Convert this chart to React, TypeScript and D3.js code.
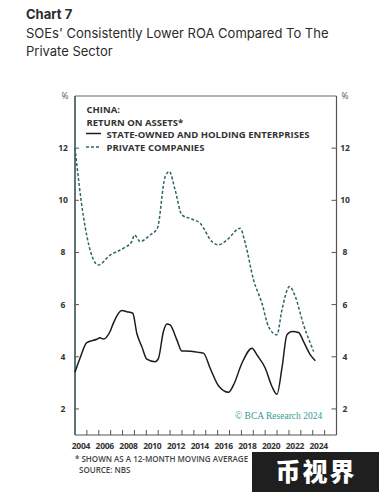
import React from 'react';
import * as d3 from 'd3';

const title = 'Chart 7';
const subtitleLines = ['SOEs\' Consistently Lower ROA Compared To The', 'Private Sector'];
const legendTitle = ['CHINA:', 'RETURN ON ASSETS*'];
const seriesNames = ['STATE-OWNED AND HOLDING ENTERPRISES', 'PRIVATE COMPANIES'];

const privateYears = [2004.0, 2004.7, 2005.96, 2006.95, 2008.07, 2008.78, 2009.0, 2009.48, 2010.32, 2010.93, 2011.58, 2011.94, 2012.42, 2012.99, 2013.69, 2014.53, 2015.52, 2016.07, 2016.78, 2017.9, 2018.32, 2019.02, 2019.73, 2020.28, 2020.99, 2021.41, 2022.05, 2022.53, 2023.23, 2023.8, 2024.08];
const privateValues = [12.0, 9.4, 7.52, 7.9, 8.16, 8.42, 8.67, 8.42, 8.67, 8.93, 10.9, 11.1, 10.4, 9.44, 9.3, 9.12, 8.42, 8.29, 8.48, 8.93, 8.36, 6.95, 6.05, 5.16, 4.84, 5.8, 6.69, 6.31, 5.22, 4.52, 4.2];

const soeYears = [2004.0, 2004.42, 2004.99, 2005.83, 2006.1, 2006.38, 2006.95, 2007.23, 2007.93, 2008.36, 2008.86, 2009.2, 2009.62, 2010.04, 2010.74, 2011.02, 2011.44, 2011.73, 2012.0, 2012.57, 2012.99, 2013.27, 2014.53, 2014.81, 2015.37, 2016.07, 2016.92, 2017.34, 2018.04, 2018.89, 2019.31, 2020.01, 2020.57, 2020.99, 2021.41, 2021.83, 2022.26, 2022.81, 2023.23, 2023.8, 2024.22];
const soeValues = [3.41, 3.94, 4.54, 4.67, 4.73, 4.68, 4.97, 5.29, 5.77, 5.73, 5.67, 4.9, 4.39, 3.91, 3.81, 3.94, 4.97, 5.26, 5.22, 4.65, 4.22, 4.22, 4.16, 4.14, 3.56, 2.89, 2.64, 2.92, 3.75, 4.33, 4.07, 3.56, 2.86, 2.56, 3.56, 4.84, 4.97, 4.93, 4.58, 4.07, 3.85];

const yTicks = [2, 4, 6, 8, 10, 12];
const xLabelYears = [2004, 2006, 2008, 2010, 2012, 2014, 2016, 2018, 2020, 2022, 2024];
const xTickYears = [2005, 2006, 2007, 2008, 2009, 2010, 2011, 2012, 2013, 2014, 2015, 2016, 2017, 2018, 2019, 2020, 2021, 2022, 2023, 2024, 2025];
const footnotes = ['* SHOWN AS A 12-MONTH MOVING AVERAGE', 'SOURCE: NBS'];

const W = 379;
const H = 492;
const L = 75, R = 336.5, T = 96, B = 435;

export default function App() {
  const x = d3.scaleLinear().domain([2004, 2026]).range([L, R]);
  const y = d3.scaleLinear().domain([1, 14]).range([B, T]);

  const priv = privateYears.map((yr, i) => [yr, privateValues[i]] as [number, number]);
  const soe = soeYears.map((yr, i) => [yr, soeValues[i]] as [number, number]);
  const line = d3.line<[number, number]>().x(d => x(d[0])).y(d => y(d[1])).curve(d3.curveMonotoneX);

  const axisColor = '#5f7475';
  const textColor = '#333';
  const geo = '"Open Sans", "DejaVu Sans", sans-serif';

  return (
    <svg width={W} height={H} style={{ position: 'absolute', left: 0, top: 0, background: '#fff' }}>
      <rect x={0} y={0} width={W} height={H} fill="#fff" />
      <text x={26} y={19} fontFamily='Inter, "Liberation Sans", sans-serif' fontSize={13} fontWeight={700} fill="#2b2b2b">{title}</text>
      {subtitleLines.map((s, i) => (
        <text key={i} x={26} y={38 + i * 18} fontFamily='Inter, "Liberation Sans", sans-serif' fontSize={13} fill="#2b2b2b">{s}</text>
      ))}

      {/* frame */}
      <line x1={L} x2={R} y1={T} y2={T} stroke="#666" strokeWidth={1} />
      <line x1={R} x2={R} y1={T} y2={B} stroke="#555" strokeWidth={1.2} />
      <line x1={L} x2={R} y1={B} y2={B} stroke="#555" strokeWidth={1.2} />
      <line x1={L} x2={L} y1={T} y2={B} stroke={axisColor} strokeWidth={2} />

      {/* y ticks */}
      {yTicks.map(t => (
        <g key={t}>
          <line x1={L} x2={L + 4} y1={y(t)} y2={y(t)} stroke="#555" strokeWidth={1} />
          <line x1={R - 5} x2={R} y1={y(t)} y2={y(t)} stroke="#555" strokeWidth={1} />
          <text x={63} y={y(t) + 3} textAnchor="middle" fontFamily={geo} fontWeight={700} fontSize={8.5} fill={textColor}>{t}</text>
          <text x={345} y={y(t) + 3} textAnchor="middle" fontFamily={geo} fontWeight={700} fontSize={8.5} fill={textColor}>{t}</text>
        </g>
      ))}
      <text x={65} y={99} textAnchor="middle" fontFamily={geo} fontSize={8.5} fill="#555">%</text>
      <text x={345} y={99} textAnchor="middle" fontFamily={geo} fontSize={8.5} fill="#555">%</text>

      {/* x ticks */}
      {xTickYears.map(t => (
        <line key={t} x1={x(t)} x2={x(t)} y1={B} y2={B - 5} stroke="#555" strokeWidth={1} />
      ))}
      {xLabelYears.map(t => (
        <text key={t} x={x(t + 0.5)} y={449} textAnchor="middle" fontFamily={geo} fontWeight={700} fontSize={8.5} letterSpacing={-0.3} fill={textColor}>{t}</text>
      ))}

      {/* lines */}
      <path d={line(priv) || ''} fill="none" stroke="#2d6466" strokeWidth={1.5} strokeDasharray="3,2" />
      <path d={line(soe) || ''} fill="none" stroke="#1c1c1c" strokeWidth={1.5} />

      {/* legend */}
      <text x={86.5} y={113} fontFamily={geo} fontWeight={700} fontSize={9.5} fill={textColor}>{legendTitle[0]}</text>
      <text x={86.5} y={126} fontFamily={geo} fontWeight={700} fontSize={9.5} fill={textColor}>{legendTitle[1]}</text>
      <line x1={86} x2={101} y1={133.5} y2={133.5} stroke="#1c1c1c" strokeWidth={1.5} />
      <text x={106.5} y={137.5} fontFamily={geo} fontWeight={700} fontSize={9.5} fill={textColor}>{seriesNames[0]}</text>
      <line x1={86} x2={101} y1={147} y2={147} stroke="#2d6466" strokeWidth={1.5} strokeDasharray="3,2" />
      <text x={106.5} y={151} fontFamily={geo} fontWeight={700} fontSize={9.5} fill={textColor}>{seriesNames[1]}</text>

      {/* credit */}
      <text x={235} y={419} fontFamily='"Liberation Serif", "DejaVu Serif", serif' fontSize={9.5} fill="#2f9a92">© BCA Research 2024</text>

      {/* footnotes */}
      <text x={75} y={462} fontFamily={geo} fontWeight={600} fontSize={8} fill="#444">{footnotes[0]}</text>
      <text x={79} y={473} fontFamily={geo} fontWeight={600} fontSize={8} fill="#444">{footnotes[1]}</text>

      {/* watermark */}
      <rect x={252} y={452} width={127} height={40} fill="#1f1f1f" />
      <text x={316} y={481} textAnchor="middle" fontFamily='"Noto Sans CJK SC", sans-serif' fontWeight={900} fontSize={25} letterSpacing={2} fill="#fff">币视界</text>
    </svg>
  );
}
